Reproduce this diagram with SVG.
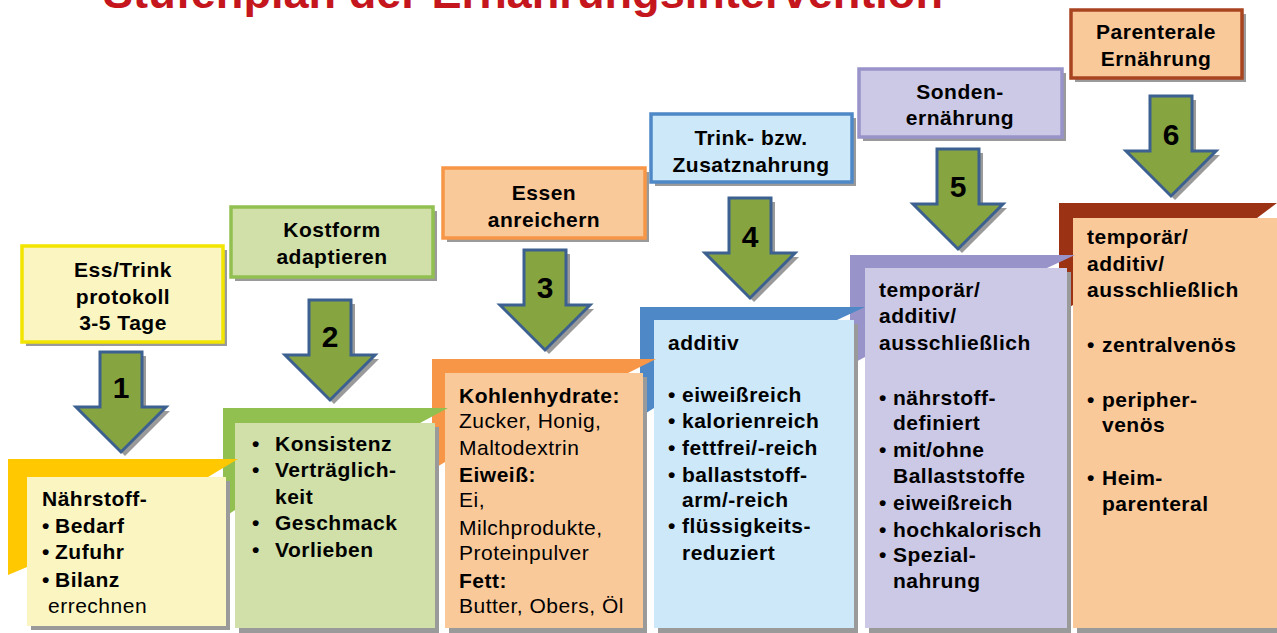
<svg xmlns="http://www.w3.org/2000/svg" width="1277" height="633" viewBox="0 0 1277 633">
<style>
text{font-family:"Liberation Sans",Arial,sans-serif;fill:#000}
.t{font-size:21px;letter-spacing:0.5px}
.b{font-weight:bold}
.c{text-anchor:middle}
.num{font-size:30px;font-weight:bold;text-anchor:middle}
.sh{fill:#9a9a9a}
.lbl{stroke-width:3.5}
.arr{fill:#86A440;stroke:#3C6090;stroke-width:3;stroke-linejoin:miter}
.title{font-size:45px;font-weight:bold;fill:#C5161D}
</style>
<defs>
<polygon id="arrow" points="-21,0 21,0 21,55 45,55 0,100 -45,55 -21,55"/>
</defs>
<rect width="1277" height="633" fill="#fff"/>
<text class="title" x="103" y="8" textLength="840" lengthAdjust="spacingAndGlyphs">Stufenplan der Ernährungsintervention</text>

<!-- top label boxes -->
<g id="label1">
<rect class="sh" x="26" y="250" width="201" height="96"/>
<rect class="lbl" x="22" y="246" width="201" height="96" fill="#FBF5C1" stroke="#F2E500"/>
<text class="t b c" x="123" y="277">Ess/Trink</text>
<text class="t b c" x="123" y="304">protokoll</text>
<text class="t b c" x="123" y="330">3-5 Tage</text>
</g>
<g id="label2">
<rect class="sh" x="235" y="211" width="202" height="70"/>
<rect class="lbl" x="231" y="207" width="202" height="70" fill="#D0E0A8" stroke="#92C050"/>
<text class="t b c" x="332" y="237">Kostform</text>
<text class="t b c" x="332" y="264">adaptieren</text>
</g>
<g id="label3">
<rect class="sh" x="447" y="172" width="202" height="70"/>
<rect class="lbl" x="443" y="168" width="202" height="70" fill="#FAC99A" stroke="#F79646"/>
<text class="t b c" x="544" y="200">Essen</text>
<text class="t b c" x="544" y="227">anreichern</text>
</g>
<g id="label4">
<rect class="sh" x="655" y="118" width="201" height="68"/>
<rect class="lbl" x="651" y="114" width="201" height="68" fill="#CCE8F9" stroke="#4F88C6"/>
<text class="t b c" x="751" y="145">Trink- bzw.</text>
<text class="t b c" x="751" y="172">Zusatznahrung</text>
</g>
<g id="label5">
<rect class="sh" x="863" y="73" width="203" height="68"/>
<rect class="lbl" x="859" y="69" width="203" height="68" fill="#CCC9E6" stroke="#9893C9"/>
<text class="t b c" x="960" y="99">Sonden-</text>
<text class="t b c" x="960" y="125">ernährung</text>
</g>
<g id="label6">
<rect class="sh" x="1075" y="14" width="171" height="68"/>
<rect class="lbl" x="1071" y="10" width="171" height="68" fill="#FAC99A" stroke="#A84420"/>
<text class="t b c" x="1156" y="39">Parenterale</text>
<text class="t b c" x="1156" y="66">Ernährung</text>
</g>

<!-- step content (later steps drawn first) -->
<g id="step6">
<polygon points="1059,203 1277,203 1257,218 1073,218 1073,305 1059,313" fill="#9C3214"/>
<rect class="sh" x="1077" y="222" width="200" height="411"/>
<rect x="1073" y="218" width="204" height="410" fill="#FAC99A"/>
<text class="t b" x="1087" y="244">temporär/</text>
<text class="t b" x="1087" y="271">additiv/</text>
<text class="t b" x="1087" y="297">ausschließlich</text>
<text class="t b" x="1087" y="352">•</text><text class="t b" x="1102" y="352">zentralvenös</text>
<text class="t b" x="1087" y="407">•</text><text class="t b" x="1102" y="407">peripher-</text>
<text class="t b" x="1102" y="432">venös</text>
<text class="t b" x="1087" y="485">•</text><text class="t b" x="1102" y="485">Heim-</text>
<text class="t b" x="1102" y="511">parenteral</text>
</g>
<g id="step5">
<polygon points="850,255 1075,255 1047,268 865,268 865,357 850,365" fill="#9893C9"/>
<rect class="sh" x="869" y="272" width="202" height="361"/>
<rect x="865" y="268" width="202" height="360" fill="#CCC9E6"/>
<text class="t b" x="879" y="297">temporär/</text>
<text class="t b" x="879" y="323">additiv/</text>
<text class="t b" x="879" y="350">ausschließlich</text>
<text class="t b" x="879" y="405">•</text><text class="t b" x="893" y="405">nährstoff-</text>
<text class="t b" x="893" y="430">definiert</text>
<text class="t b" x="879" y="457">•</text><text class="t b" x="893" y="457">mit/ohne</text>
<text class="t b" x="893" y="483">Ballaststoffe</text>
<text class="t b" x="879" y="510">•</text><text class="t b" x="893" y="510">eiweißreich</text>
<text class="t b" x="879" y="537">•</text><text class="t b" x="893" y="537">hochkalorisch</text>
<text class="t b" x="879" y="562">•</text><text class="t b" x="893" y="562">Spezial-</text>
<text class="t b" x="893" y="588">nahrung</text>
</g>
<g id="step4">
<polygon points="640,307 865,307 837,320 654,320 654,408 640,417" fill="#4F88C6"/>
<rect class="sh" x="658" y="324" width="200" height="309"/>
<rect x="654" y="320" width="200" height="308" fill="#CCE8F9"/>
<text class="t b" x="668" y="350">additiv</text>
<text class="t b" x="668" y="402">•</text><text class="t b" x="682" y="402">eiweißreich</text>
<text class="t b" x="668" y="428">•</text><text class="t b" x="682" y="428">kalorienreich</text>
<text class="t b" x="668" y="455">•</text><text class="t b" x="682" y="455">fettfrei/-reich</text>
<text class="t b" x="668" y="482">•</text><text class="t b" x="682" y="482">ballaststoff-</text>
<text class="t b" x="682" y="507">arm/-reich</text>
<text class="t b" x="668" y="533">•</text><text class="t b" x="682" y="533">flüssigkeits-</text>
<text class="t b" x="682" y="560">reduziert</text>
</g>
<g id="step3">
<polygon points="432,359 656,359 628,373 445,373 445,462 432,470" fill="#F79646"/>
<rect class="sh" x="449" y="377" width="198" height="256"/>
<rect x="445" y="373" width="198" height="255" fill="#FAC99A"/>
<text class="t b" x="459" y="403">Kohlenhydrate:</text>
<text class="t" x="459" y="428">Zucker, Honig,</text>
<text class="t" x="459" y="455">Maltodextrin</text>
<text class="t b" x="459" y="482">Eiweiß:</text>
<text class="t" x="459" y="507">Ei,</text>
<text class="t" x="459" y="535">Milchprodukte,</text>
<text class="t" x="459" y="560">Proteinpulver</text>
<text class="t b" x="459" y="588">Fett:</text>
<text class="t" x="459" y="613">Butter, Obers, Öl</text>
</g>
<g id="step2">
<polygon points="223,408 448,408 420,423 235,423 235,510 223,518" fill="#92C050"/>
<rect class="sh" x="239" y="427" width="200" height="206"/>
<rect x="235" y="423" width="200" height="205" fill="#D0E0A8"/>
<text class="t b" x="252" y="451">•</text><text class="t b" x="275" y="451">Konsistenz</text>
<text class="t b" x="252" y="477">•</text><text class="t b" x="275" y="477">Verträglich-</text>
<text class="t b" x="275" y="504">keit</text>
<text class="t b" x="252" y="530">•</text><text class="t b" x="275" y="530">Geschmack</text>
<text class="t b" x="252" y="557">•</text><text class="t b" x="275" y="557">Vorlieben</text>
</g>
<g id="step1">
<polygon points="8,459 238,459 208,477 27,477 27,567 8,575" fill="#FFC800"/>
<rect class="sh" x="31" y="481" width="199" height="149"/>
<rect x="27" y="477" width="199" height="149" fill="#FBF5C1"/>
<text class="t b" x="42" y="506">Nährstoff-</text>
<text class="t b" x="42" y="533">•</text><text class="t b" x="55" y="533">Bedarf</text>
<text class="t b" x="42" y="559">•</text><text class="t b" x="55" y="559">Zufuhr</text>
<text class="t b" x="42" y="587">•</text><text class="t b" x="55" y="587">Bilanz</text>
<text class="t" x="48" y="613">errechnen</text>
</g>

<!-- connectors: numbered block arrows -->
<g id="connectors">
<g transform="translate(121,352)"><use href="#arrow" class="sh" x="4" y="4"/><use href="#arrow" class="arr"/><text class="num" y="46">1</text></g>
<g transform="translate(330,300)"><use href="#arrow" class="sh" x="4" y="4"/><use href="#arrow" class="arr"/><text class="num" y="47">2</text></g>
<g transform="translate(545,250)"><use href="#arrow" class="sh" x="4" y="4"/><use href="#arrow" class="arr"/><text class="num" y="48">3</text></g>
<g transform="translate(750,198)"><use href="#arrow" class="sh" x="4" y="4"/><use href="#arrow" class="arr"/><text class="num" y="49">4</text></g>
<g transform="translate(958,149)"><use href="#arrow" class="sh" x="4" y="4"/><use href="#arrow" class="arr"/><text class="num" y="48">5</text></g>
<g transform="translate(1171,96)"><use href="#arrow" class="sh" x="4" y="4"/><use href="#arrow" class="arr"/><text class="num" y="49">6</text></g>
</g>
</svg>
